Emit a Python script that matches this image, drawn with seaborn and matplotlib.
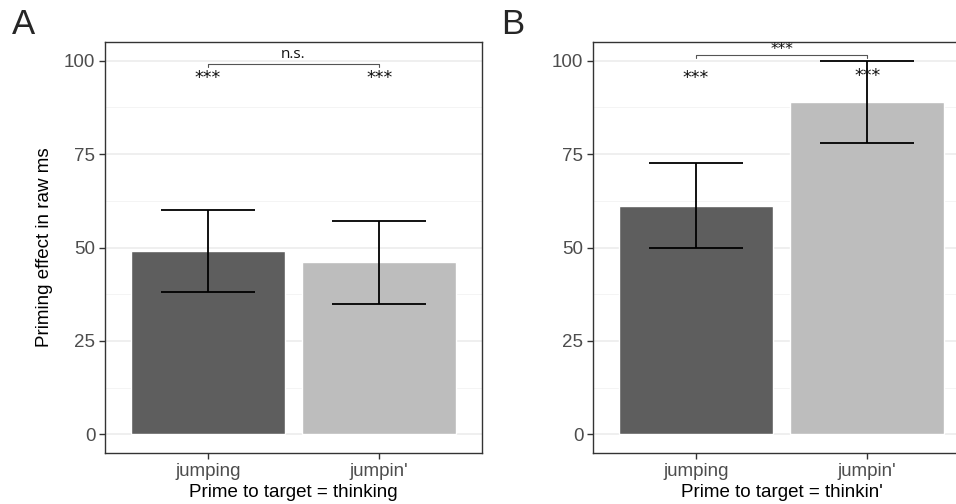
import matplotlib
matplotlib.use("Agg")
import matplotlib.pyplot as plt
import numpy as np
import pandas as pd
import seaborn as sns

sns.set_style("white")
plt.rcParams['font.family'] = ['Liberation Sans', 'DejaVu Sans']

# data
primes = ["jumping", "jumpin'"]
targets = ["thinking", "thinkin'"]
effect_thinking = [49, 46]
lower_thinking = [38, 35]
upper_thinking = [60, 57]
effect_thinkin = [61, 89]
lower_thinkin = [50, 78]
upper_thinkin = [72.5, 100]
star_labels = [["***", "***"], ["***", "***"]]
star_y = [[95.3, 95.3], [95.3, 96.0]]
bracket_labels = ["n.s.", "***"]
bracket_y = [99.2, 101.5]
panel_labels = ["A", "B"]

bar_colors = ["#5e5e5e", "#bdbdbd"]
grey20 = "#333333"
grey30 = "#4d4d4d"

fig = plt.figure(figsize=(9.56, 5.04), dpi=100)
axA = fig.add_axes([105/956, 51/504, 377/956, 411/504])
axB = fig.add_axes([593/956, 51/504, 377/956, 411/504])

panels = [
    (axA, effect_thinking, lower_thinking, upper_thinking),
    (axB, effect_thinkin, lower_thinkin, upper_thinkin),
]

for i, (ax, eff, lo, hi) in enumerate(panels):
    df = pd.DataFrame({"prime": primes, "effect": eff, "lo": lo, "hi": hi})
    ax.set_axisbelow(True)
    ax.set_yticks([12.5, 37.5, 62.5, 87.5], minor=True)
    ax.grid(which="major", color="#ebebeb", linewidth=1.1)
    ax.grid(which="minor", axis="y", color="#f2f2f2", linewidth=0.6)
    sns.barplot(data=df, x="prime", y="effect", hue="prime", palette=bar_colors,
                width=0.9, errorbar=None, legend=False, ax=ax, saturation=1)
    xs = np.arange(len(primes))
    ax.errorbar(xs, df["effect"], yerr=[df["effect"] - df["lo"], df["hi"] - df["effect"]],
                fmt="none", ecolor="black", elinewidth=1.3, capsize=34, capthick=1.3)
    for j in range(len(primes)):
        ax.text(xs[j], star_y[i][j], star_labels[i][j], ha="center", va="center",
                fontsize=12.5, family="DejaVu Sans", color="#111111")
    by = bracket_y[i]
    ax.plot([0, 0, 1, 1], [by - 0.8, by, by, by - 0.8], color="#555555", linewidth=0.8)
    if bracket_labels[i] == "n.s.":
        ax.text(0.5, by + 0.5, bracket_labels[i], ha="center", va="bottom",
                fontsize=11, family="Open Sans", color="#111111")
    else:
        ax.text(0.5, by - 0.5, bracket_labels[i], ha="center", va="bottom",
                fontsize=11, family="DejaVu Sans", color="#111111")

    ax.set_xlim(-0.6, 1.6)
    ax.set_ylim(-5, 105)
    ax.set_yticks([0, 25, 50, 75, 100])
    ax.tick_params(axis="both", which="major", length=4, width=1, color=grey20,
                   labelsize=13.5, labelcolor=grey30, pad=3, direction="out",
                   bottom=True, left=True)
    ax.tick_params(which="minor", length=0)
    for s in ax.spines.values():
        s.set_color(grey20)
        s.set_linewidth(1)
    ax.set_xlabel("Prime to target = " + targets[i], fontsize=13.5, color="black", labelpad=3)
    ax.set_ylabel("Priming effect in raw ms" if i == 0 else "", fontsize=13.5, color="black", labelpad=8)

fig.text(12/956, 1 - 25/504, panel_labels[0], fontsize=25, va="center", ha="left")
fig.text(501/956, 1 - 24/504, panel_labels[1], fontsize=25, va="center", ha="left")

fig.savefig("out.png", dpi=100, facecolor="white")
